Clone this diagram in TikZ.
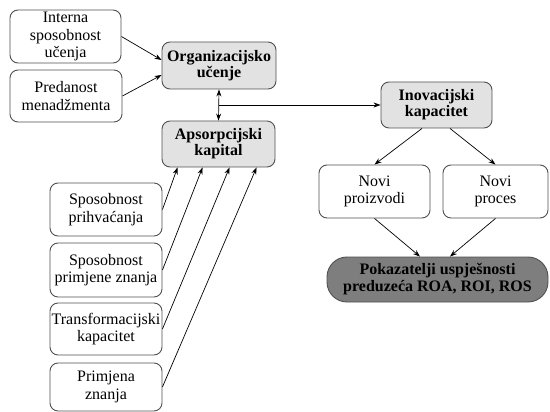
\documentclass[tikz,border=0pt]{standalone}
\usepackage{fontspec}
\IfFontExistsTF{LiberationSerif-Regular.ttf}
  {\newfontfamily\timesfont{LiberationSerif}[Extension=.ttf,UprightFont=*-Regular,BoldFont=*-Bold]}
  {\newfontfamily\timesfont{Latin Modern Roman}}
\usetikzlibrary{arrows.meta,calc}
\definecolor{lightfill}{HTML}{E2E2E2}
\definecolor{darkfill}{HTML}{7E7E7E}
\definecolor{edge}{HTML}{505050}
\begin{document}
\begin{tikzpicture}[x=1pt,y=-1pt,
  box/.style={draw=edge,line width=0.9pt,rounded corners=8pt,fill=white,align=center,inner sep=0pt,
    font=\timesfont\fontsize{16}{17.5}\selectfont},
  keybox/.style={box,fill=lightfill,font=\timesfont\fontsize{16}{16}\selectfont\bfseries},
  resbox/.style={box,fill=darkfill,rounded corners=20pt,font=\timesfont\fontsize{16}{17}\selectfont\bfseries},
  arr/.style={-{Stealth[length=7pt,width=5pt]},line width=0.7pt},
  darr/.style={{Stealth[length=7pt,width=5pt]}-{Stealth[length=7pt,width=5pt]},line width=0.7pt}]
\useasboundingbox (0,0) rectangle (550,412);
% left top
\node[box,minimum width=111pt,minimum height=53pt] (int) at (65.5,36.5) {Interna\\sposobnost\\učenja};
\node[box,minimum width=112pt,minimum height=52pt] (pre) at (66,96) {Predanost\\menadžmenta};
\node[keybox,minimum width=114pt,minimum height=47pt] (org) at (219,65.5) {Organizacijsko\\učenje};
\node[keybox,minimum width=113pt,minimum height=46pt] (aps) at (218.5,144) {Apsorpcijski\\kapital};
% left column
\node[box,minimum width=112pt,minimum height=53pt] (prih) at (106,209.5) {Sposobnost\\prihvaćanja};
\node[box,minimum width=112pt,minimum height=54pt] (prim) at (106,270) {Sposobnost\\primjene znanja};
\node[box,minimum width=112pt,minimum height=52pt] (tra) at (106,329) {Transformacijski\\kapacitet};
\node[box,minimum width=112pt,minimum height=48pt] (pz) at (106,387) {Primjena\\znanja};
% right
\node[keybox,minimum width=111pt,minimum height=46pt] (ino) at (436.5,105) {Inovacijski\\kapacitet};
\node[box,minimum width=111pt,minimum height=53pt] (np) at (374.5,191.5) {Novi\\proizvodi};
\node[box,minimum width=105pt,minimum height=53pt] (npr) at (495.5,191.5) {Novi\\proces};
\node[resbox,minimum width=221pt,minimum height=45pt] (pok) at (437.5,279.5) {Pokazatelji uspješnosti\\preduzeća ROA, ROI, ROS};
% connectors
\draw[arr] (int.east) -- ($(org.west)+(0,-5.5)$);
\draw[arr] (pre.east) -- ($(org.west)+(0,9.5)$);
\draw[darr] (org.south) -- (aps.north);
\coordinate (j) at ($(org.south)!0.5!(aps.north)$);
\draw[arr] (j) -- (j -| ino.west);
\draw[arr] (prih.east) -- ($(aps.south west)+(16,0)$);
\draw[arr] (prim.east) -- ($(aps.south west)+(41,0)$);
\draw[arr] (tra.east) -- ($(aps.south west)+(68,0)$);
\draw[arr] (pz.east) -- ($(aps.south west)+(95,0)$);
\draw[arr] ($(ino.south)+(-14.5,0)$) -- (np.north);
\draw[arr] ($(ino.south)+(13.5,0)$) -- (npr.north);
\draw[arr] (np.south) -- ($(pok.north)+(-17.5,0)$);
\draw[arr] (npr.south) -- ($(pok.north)+(12.5,0)$);
\end{tikzpicture}
\end{document}
